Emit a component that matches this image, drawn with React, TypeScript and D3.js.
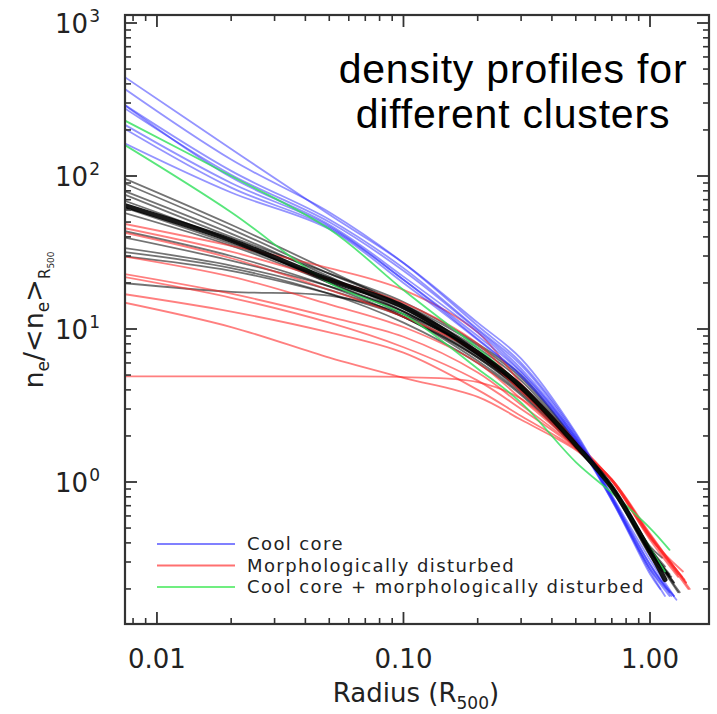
import React from 'react';
import * as d3 from 'd3';

// radius grid (R500) at which every profile is sampled
const radiusGrid = [0.0072, 0.02, 0.05, 0.1, 0.2, 0.3, 0.5, 0.7, 1.0];

// Cool core clusters (blue)
const coolCore = [
  [457, 150, 56, 27, 11, 6.4, 2.1, 0.82, 0.31],
  [382, 128, 58, 27, 10.5, 6.0, 2.05, 0.8, 0.29],
  [300, 108, 52, 25, 10, 5.8, 2.0, 0.8, 0.29],
  [285, 102, 50, 24, 9.8, 5.5, 1.95, 0.78, 0.27],
  [300, 98, 48, 22, 9.5, 5.3, 1.95, 0.78, 0.28],
  [222, 90, 47, 21, 9.0, 5.2, 1.9, 0.76, 0.26],
  [209, 84, 46, 21, 8.6, 5.0, 1.9, 0.78, 0.27],
  [167, 78, 45, 20, 8.5, 4.9, 1.85, 0.76, 0.25],
];
const coolCoreEnd = [[1.25, 0.18], [1.28, 0.17], [1.22, 0.18], [1.2, 0.18], [1.25, 0.18], [1.15, 0.18], [1.2, 0.19], [1.1, 0.2]];

// Morphologically disturbed clusters (red)
const disturbed = [
  [49, 35, 25, 18, 9.5, 4.4, 1.85, 1.03, 0.44],
  [46, 32, 21, 14.8, 8.0, 4.1, 1.8, 1.02, 0.43],
  [43, 29, 18, 12, 7.0, 3.9, 1.78, 1.02, 0.42],
  [30, 22, 14.5, 10.3, 6.0, 3.5, 1.72, 1.03, 0.45],
  [23, 17, 12, 8.9, 5.2, 3.2, 1.7, 1.04, 0.45],
  [22, 16, 11, 7.6, 4.6, 3.0, 1.68, 1.04, 0.44],
  [17, 13, 9.5, 7.0, 4.0, 2.7, 1.65, 1.03, 0.44],
  [15, 10.3, 6.5, 4.8, 3.6, 2.55, 1.62, 1.04, 0.46],
  [4.9, 4.9, 4.9, 4.85, 4.5, 3.5, 1.75, 1.02, 0.44],
];
const disturbedEnd = [[1.43, 0.2], [1.36, 0.26], [1.3, 0.24], [1.4, 0.22], [1.35, 0.24], [1.3, 0.25], [1.38, 0.23], [1.45, 0.2], [1.4, 0.22]];

// Cool core + morphologically disturbed (green)
const both = [
  [236, 100, 45, 18, 7.5, 4.2, 1.75, 0.9, 0.37],
  [164, 58, 20, 12.5, 5.5, 3.3, 1.35, 0.85, 0.5],
];
const bothEnd = [[1.15, 0.26], [1.2, 0.36]];

// Other clusters (black, thin)
const others = [
  [98, 48, 24, 14, 7.5, 4.6, 1.8, 0.92, 0.36],
  [91, 45, 23, 14.5, 7.8, 4.8, 1.85, 0.92, 0.35],
  [81, 42, 22, 13, 7.2, 4.3, 1.76, 0.93, 0.37],
  [77, 40, 23, 15, 8.0, 5.0, 1.85, 0.9, 0.33],
  [70, 38, 20, 13, 6.8, 4.0, 1.72, 0.93, 0.37],
  [63, 36, 21, 13.5, 7.0, 4.2, 1.76, 0.94, 0.38],
  [58, 35, 20, 12.5, 6.6, 4.0, 1.72, 0.92, 0.36],
  [44, 30, 19, 12, 6.5, 3.9, 1.7, 0.92, 0.36],
  [40, 28, 19, 13, 6.8, 4.1, 1.73, 0.92, 0.35],
  [34, 26, 18, 12, 6.2, 3.8, 1.68, 0.92, 0.36],
  [32, 25, 17, 11, 6.0, 3.7, 1.66, 0.93, 0.37],
  [30, 24, 17, 12, 6.5, 4.0, 1.72, 0.92, 0.35],
  [20, 17.5, 16.5, 12.5, 7.0, 4.2, 1.75, 0.92, 0.35],
];
const othersEnd = [[1.3, 0.19], [1.15, 0.26], [1.2, 0.24], [1.12, 0.26], [1.25, 0.22], [1.12, 0.32], [1.32, 0.19], [1.2, 0.25], [1.18, 0.25], [1.25, 0.22], [1.15, 0.28], [1.22, 0.24], [1.2, 0.24]];

// mean profile (thick black)
const meanProfile = [65, 38, 21, 14, 7.0, 4.2, 1.75, 0.92, 0.35];
const meanEnd = [1.15, 0.23];

const xMajorTicks = [0.01, 0.1, 1];
const xTickLabels = ['0.01', '0.10', '1.00'];
const yMajorExps = [0, 1, 2, 3];
const legendLabels = ['Cool core', 'Morphologically disturbed', 'Cool core + morphologically disturbed'];
const legendColors = ['#8080ff', '#ff7070', '#70ee80'];

export default function App() {
  const W = 717, H = 714;
  const L = 125, R = 709, T = 15, B = 624;
  const x = d3.scaleLog().domain([0.00742, 1.735]).range([L, R]);
  const y = d3.scaleLog().domain([0.118, 1128]).range([B, T]);
  const line = d3.line<[number, number]>().x(d => x(d[0])).y(d => y(d[1])).curve(d3.curveCatmullRom.alpha(0.5));
  const pts = (vals: number[], end: number[]) => [...radiusGrid.map((r, i) => [r, vals[i]] as [number, number]), [end[0], end[1]] as [number, number]];

  const [x0, x1] = x.domain();
  const [y0, y1] = y.domain();
  const xMinor: number[] = [];
  for (let e = -3; e <= 0; e++) for (let k = 2; k <= 9; k++) { const v = k * Math.pow(10, e); if (v > x0 && v < x1) xMinor.push(v); }
  const yMinor: number[] = [];
  for (let e = -1; e <= 3; e++) for (let k = 2; k <= 9; k++) { const v = k * Math.pow(10, e); if (v > y0 && v < y1) yMinor.push(v); }

  const axisColor = '#333';
  const font = 'DejaVu Sans, sans-serif';
  const maj = 12, mn = 6;

  return (
    <svg width={W} height={H} style={{ position: 'absolute', left: 0, top: 0, background: '#fff' }}>
      <defs>
        <clipPath id="plot"><rect x={L} y={T} width={R - L} height={B - T} /></clipPath>
      </defs>
      <rect x={0} y={0} width={W} height={H} fill="#fff" />
      <g clipPath="url(#plot)" fill="none" strokeLinejoin="round" strokeLinecap="round">
        {others.map((v, i) => <path key={'k' + i} d={line(pts(v, othersEnd[i]))!} stroke="#000" strokeOpacity={0.55} strokeWidth={1.8} />)}
        {disturbed.map((v, i) => <path key={'r' + i} d={line(pts(v, disturbedEnd[i]))!} stroke="#ff2a2a" strokeOpacity={0.6} strokeWidth={1.8} />)}
        {coolCore.map((v, i) => <path key={'b' + i} d={line(pts(v, coolCoreEnd[i]))!} stroke="#2a2aff" strokeOpacity={0.5} strokeWidth={1.8} />)}
        {both.map((v, i) => <path key={'g' + i} d={line(pts(v, bothEnd[i]))!} stroke="#2ee05a" strokeOpacity={0.8} strokeWidth={1.8} />)}
        <path d={line(pts(meanProfile, meanEnd))!} stroke="#000" strokeOpacity={0.9} strokeWidth={5} />
      </g>
      {/* frame */}
      <rect x={L} y={T} width={R - L} height={B - T} fill="none" stroke={axisColor} strokeWidth={2.2} />
      {/* x ticks bottom and top */}
      {xMajorTicks.map(v => (
        <g key={'xm' + v} stroke={axisColor} strokeWidth={1.8}>
          <line x1={x(v)} x2={x(v)} y1={B} y2={B - maj} />
          <line x1={x(v)} x2={x(v)} y1={T} y2={T + maj} />
        </g>
      ))}
      {xMinor.map(v => (
        <g key={'xn' + v} stroke={axisColor} strokeWidth={1.6}>
          <line x1={x(v)} x2={x(v)} y1={B} y2={B - mn} />
          <line x1={x(v)} x2={x(v)} y1={T} y2={T + mn} />
        </g>
      ))}
      {yMajorExps.map(e => (
        <g key={'ym' + e} stroke={axisColor} strokeWidth={1.8}>
          <line x1={L} x2={L + maj} y1={y(Math.pow(10, e))} y2={y(Math.pow(10, e))} />
          <line x1={R} x2={R - maj} y1={y(Math.pow(10, e))} y2={y(Math.pow(10, e))} />
        </g>
      ))}
      {yMinor.map(v => (
        <g key={'yn' + v} stroke={axisColor} strokeWidth={1.6}>
          <line x1={L} x2={L + mn} y1={y(v)} y2={y(v)} />
          <line x1={R} x2={R - mn} y1={y(v)} y2={y(v)} />
        </g>
      ))}
      {/* x tick labels */}
      {xMajorTicks.map((v, i) => (
        <text key={'xl' + v} x={x(v)} y={B + 44} textAnchor="middle" fontFamily={font} fontSize={26} fill="#222">{xTickLabels[i]}</text>
      ))}
      {/* y tick labels */}
      {yMajorExps.map(e => (
        <text key={'yl' + e} x={L - 25} y={y(Math.pow(10, e)) + 10} textAnchor="end" fontFamily={font} fontSize={26} fill="#222">
          10
          <tspan dx={1} dy={-11} fontSize={17}>{e}</tspan>
        </text>
      ))}
      {/* x axis title */}
      <text x={416} y={702} textAnchor="middle" fontFamily={font} fontSize={26} fill="#222">
        Radius (R<tspan dy={7} fontSize={17}>500</tspan><tspan dy={-7}>)</tspan>
      </text>
      {/* y axis title */}
      <text transform="translate(43,320) rotate(-90)" textAnchor="middle" fontFamily={font} fontSize={27} fill="#222">
        n<tspan dy={6} fontSize={17}>e</tspan><tspan dy={-6}>/&lt;n</tspan><tspan dy={6} fontSize={17}>e</tspan><tspan dy={-6}>&gt;</tspan><tspan dy={7} fontSize={15}>R</tspan><tspan dy={4} fontSize={9}>500</tspan>
      </text>
      {/* legend */}
      {legendLabels.map((lab, i) => (
        <g key={'lg' + i}>
          <line x1={157} x2={235} y1={544 + i * 21.5} y2={544 + i * 21.5} stroke={legendColors[i]} strokeWidth={2} />
          <text x={247} y={544 + i * 21.5 + 6} fontFamily={font} fontSize={18} letterSpacing={1.4} fill="#222">{lab}</text>
        </g>
      ))}
      {/* annotation */}
      <text x={513} y={83} textAnchor="middle" fontFamily="Liberation Sans, Arial, sans-serif" fontSize={41} fill="#000" letterSpacing={0.8}>density profiles for</text>
      <text x={513} y={128} textAnchor="middle" fontFamily="Liberation Sans, Arial, sans-serif" fontSize={41} fill="#000" letterSpacing={0.8}>different clusters</text>
    </svg>
  );
}
